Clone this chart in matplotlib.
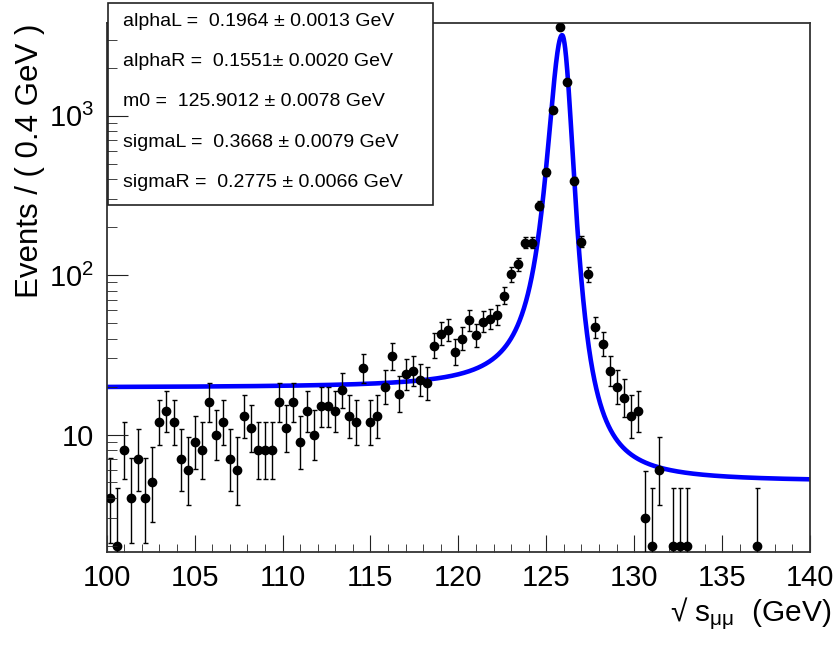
import numpy as np
import matplotlib
matplotlib.use("Agg")
import matplotlib.pyplot as plt
from matplotlib.patches import Rectangle
from matplotlib.ticker import FixedLocator, FixedFormatter

plt.rcParams['font.family'] = ['Liberation Sans', 'DejaVu Sans']
plt.rcParams['mathtext.fontset'] = 'custom'
plt.rcParams['mathtext.rm'] = 'Liberation Sans'
plt.rcParams['mathtext.default'] = 'regular'

# binned data: 100 bins of 0.4 GeV between 100 and 140 GeV
x_min, x_max, bin_w = 100.0, 140.0, 0.4
counts = [4, 2, 8, 4, 7, 4, 5, 12, 14, 12,
          7, 6, 9, 8, 16, 10, 12, 7, 6, 13,
          11, 8, 8, 8, 16, 11, 16, 9, 14, 10,
          15, 15, 14, 19, 13, 12, 26, 12, 13, 20,
          31, 18, 24, 25, 22, 21, 36, 43, 45, 33,
          40, 52, 42, 51, 53, 56, 74, 101, 117, 160,
          160, 272, 441, 1088, 3620, 1630, 390, 162, 101, 47,
          37, 25, 20, 17, 13, 14, 3, 2, 6, 0,
          2, 2, 2, 0, 0, 0, 0, 0, 0, 0,
          0, 0, 2, 0, 0, 0, 0, 0, 0, 0]

# fit parameters shown in the box
alphaL, alphaL_err = 0.1964, 0.0013
alphaR, alphaR_err = 0.1551, 0.0020
m0, m0_err = 125.9012, 0.0078
sigmaL, sigmaL_err = 0.3668, 0.0079
sigmaR, sigmaR_err = 0.2775, 0.0066
peak_norm = 3200.0

x_ticks = [100, 105, 110, 115, 120, 125, 130, 135, 140]
y_ticks = [10, 100, 1000]
y_tick_labels = ['10', '$10^{2}$', '$10^{3}$']


def cruijff(x):
    dx = x - m0
    sig = np.where(dx < 0, sigmaL, sigmaR)
    alp = np.where(dx < 0, alphaL, alphaR)
    return peak_norm * np.exp(-dx**2 / (2 * sig**2 + alp * dx**2))


def poisson_err(n):
    # 68% Poisson interval (Wilson-Hilferty approximation)
    n = np.asarray(n, float)
    lo = n * (1 - 1 / (9 * n) - 1 / (3 * np.sqrt(n)))**3
    n1 = n + 1
    hi = n1 * (1 - 1 / (9 * n1) + 1 / (3 * np.sqrt(n1)))**3
    return n - lo, hi - n


W, H = 837, 651
fig = plt.figure(figsize=(W / 100, H / 100), dpi=100)
ax = fig.add_axes([106.7 / W, 1 - 551.7 / H, (810 - 106.7) / W, (551.7 - 22.7) / H])

centers = x_min + bin_w * (np.arange(len(counts)) + 0.5)
c = np.array(counts)
keep = c > 0
elo, ehi = poisson_err(c[keep])

xs = np.linspace(x_min, x_max, 3000)
ax.plot(xs, cruijff(xs), color='#0000ff', lw=3.3, zorder=2)
ax.errorbar(centers[keep], c[keep], yerr=[elo, ehi], fmt='o', color='black',
            ms=6, elinewidth=1.0, capsize=1.8, capthick=1.0, zorder=3)

ax.set_yscale('log')
ax.set_xlim(x_min, x_max)
ax.set_ylim(1.84, 3830)

ax.xaxis.set_major_locator(FixedLocator(x_ticks))
ax.xaxis.set_minor_locator(FixedLocator(np.arange(101, 140, 1)))
ax.yaxis.set_major_locator(FixedLocator(y_ticks))
ax.yaxis.set_major_formatter(FixedFormatter(y_tick_labels))
minors = [m * 10**k for k in range(0, 4) for m in range(2, 10)]
ax.yaxis.set_minor_locator(FixedLocator(minors))
ax.yaxis.set_minor_formatter(FixedFormatter([''] * len(minors)))

ax.tick_params(axis='both', which='both', direction='in', top=False, right=False,
               labelsize=21, color='#222222')
ax.tick_params(axis='x', which='major', length=12, pad=9)
ax.tick_params(axis='x', which='minor', length=6)
ax.tick_params(axis='y', which='major', length=15, pad=9)
ax.tick_params(axis='y', which='minor', length=7)
for s in ax.spines.values():
    s.set_linewidth(1.3)
    s.set_color('#333333')
ax.yaxis.set_zorder(5)

fig.text(30 / W, 1 - 24 / H, 'Events / ( 0.4 GeV )', rotation=90,
         ha='center', va='top', fontsize=22.5)
fig.text(831 / W, 1 - 621 / H, '√ s$_{μμ}$  (GeV)', ha='right', va='baseline',
         fontsize=21.5)

# parameter box
box = Rectangle((108 / W, 1 - 205 / H), (433 - 108) / W, (205 - 3) / H,
                transform=fig.transFigure, facecolor='white', edgecolor='#222222',
                lw=1.2, clip_on=False, zorder=4)
ax.add_patch(box)
lines = [
    f'alphaL =  {alphaL:.4f} ± {alphaL_err:.4f} GeV',
    f'alphaR =  {alphaR:.4f}± {alphaR_err:.4f} GeV',
    f'm0 =  {m0:.4f} ± {m0_err:.4f} GeV',
    f'sigmaL =  {sigmaL:.4f} ± {sigmaL_err:.4f} GeV',
    f'sigmaR =  {sigmaR:.4f} ± {sigmaR_err:.4f} GeV',
]
for i, t in enumerate(lines):
    ax.text(123 / W, 1 - (21 + 40.4 * i) / H, t, transform=fig.transFigure,
            ha='left', va='center', fontsize=14, zorder=6, clip_on=False)

fig.savefig('out.png', dpi=100)
